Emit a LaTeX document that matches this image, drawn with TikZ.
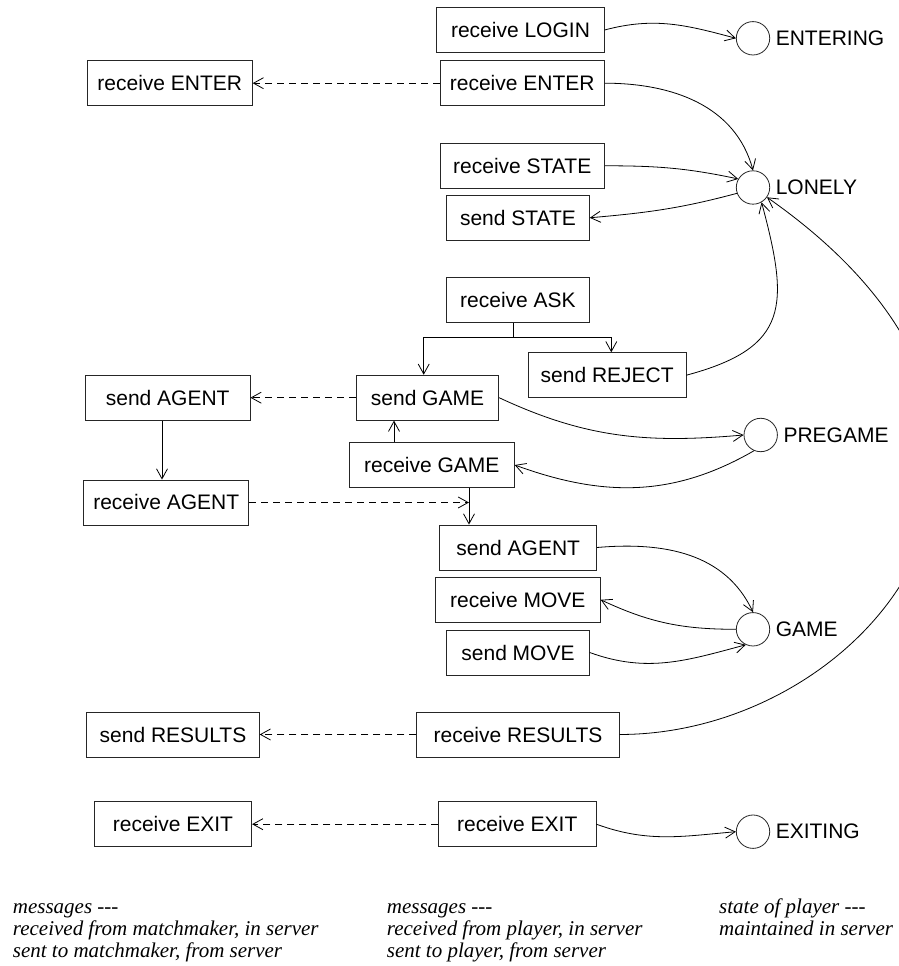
\documentclass[tikz,border=0pt]{standalone}
\usepackage{fontspec}
\setmainfont{Liberation Sans}
\newfontfamily\notefont{Liberation Serif}
\usetikzlibrary{arrows.meta,calc}
\begin{document}
\begin{tikzpicture}[x=1pt,y=1pt,
  box/.style={draw=black!85, line width=0.8pt, minimum height=45pt, inner sep=0pt, font=\fontsize{21}{25}\selectfont},
  st/.style={circle, draw=black!85, line width=0.8pt, minimum size=33.4pt, inner sep=0pt},
  stlab/.style={font=\fontsize{21}{25}\selectfont, inner sep=0pt, anchor=west},
  arr/.style={line width=0.8pt, -{Straight Barb[length=10pt,width=11pt]}},
  dasharr/.style={arr, dash pattern=on 7pt off 5pt},
  plain/.style={line width=0.8pt},
  note/.style={font=\notefont\itshape\fontsize{21}{22}\selectfont, inner sep=0pt, anchor=base west}]
\clip (0,0) rectangle (899,966);
\fill[white] (0,0) rectangle (899,966);

% boxes
\node[box, minimum width=167.6pt] (rLOGIN)   at (520.5,936)   {receive LOGIN};
\node[box, minimum width=164.3pt] (rENTERb)  at (522.2,882.8) {receive ENTER};
\node[box, minimum width=165pt]   (rENTERa)  at (169.8,882.8) {receive ENTER};
\node[box, minimum width=164.3pt] (rSTATE)   at (522.2,800.2) {receive STATE};
\node[box, minimum width=142.6pt] (sSTATE)   at (518,748.2)   {send STATE};
\node[box, minimum width=142.6pt] (rASK)     at (518,666)     {receive ASK};
\node[box, minimum width=157.7pt] (sREJECT)  at (607.2,590.8) {send REJECT};
\node[box, minimum width=142.4pt] (sGAME)    at (427.5,568.3) {send GAME};
\node[box, minimum width=164.7pt] (sAGENTa)  at (167.7,568.3) {send AGENT};
\node[box, minimum width=165pt]   (rGAME)    at (431.8,501)   {receive GAME};
\node[box, minimum width=165pt]   (rAGENT)   at (166.2,463.5) {receive AGENT};
\node[box, minimum width=157pt]   (sAGENTb)  at (518.2,418.5) {send AGENT};
\node[box, minimum width=165pt]   (rMOVE)    at (517.8,366.2) {receive MOVE};
\node[box, minimum width=142.6pt] (sMOVE)    at (518,313.5)   {send MOVE};
\node[box, minimum width=202.6pt] (rRESULTS) at (518,231.5)   {receive RESULTS};
\node[box, minimum width=172.6pt] (sRESULTS) at (173,231.5)   {send RESULTS};
\node[box, minimum width=157.3pt] (rEXITb)   at (517.3,141.8) {receive EXIT};
\node[box, minimum width=157.4pt] (rEXITa)   at (173,141.8)   {receive EXIT};

% states
\node[st] (ent) at (753,927.7) {};
\node[st] (lon) at (753,778.5) {};
\node[st] (pre) at (760.7,531) {};
\node[st] (gam) at (753,336.7) {};
\node[st] (exi) at (753,134.3) {};
\node[stlab] (entL) at ($(ent.east)+(5.5,0)$) {ENTERING};
\node[stlab] (lonL) at ($(lon.east)+(5.5,0)$) {LONELY};
\node[stlab] (preL) at ($(pre.east)+(5.5,0)$) {PREGAME};
\node[stlab] (gamL) at ($(gam.east)+(5.5,0)$) {GAME};
\node[stlab] (exiL) at ($(exi.east)+(5.5,0)$) {EXITING};

% transitions to/from states
\draw[arr] (rLOGIN.east) to[out=15,in=165] (ent.west);
\draw[arr] (rENTERb.east) to[out=0,in=105] (lon.north);
\draw[arr] (rSTATE.east) to[out=0,in=168] (lon.150);
\draw[arr] (lon.200) to[out=195,in=5] (sSTATE.east);
\draw[arr] (sREJECT.east) to[out=15,in=-75,looseness=1.45] (lon.-60);
\draw[arr] (rRESULTS.east) .. controls +(250,0) and +(344,-241) .. (lon.-35);
\draw[arr] (sGAME.east) to[out=-25,in=185] (pre.west);
\draw[arr] (pre.-113) to[out=-150,in=-20] (rGAME.east);
\draw[arr] (sAGENTb.east) to[out=5,in=115] (gam.north);
\draw[arr] (gam.west) to[out=180,in=-25] (rMOVE.east);
\draw[arr] (sMOVE.east) to[out=-20,in=195] (gam.-115);
\draw[arr] (rEXITb.east) to[out=-20,in=185] (exi.west);

% ASK split
\coordinate (askj) at ($(rASK.south)+(-4.7,-14.6)$);
\draw[plain] ($(rASK.south)+(-4.7,0)$) -- (askj);
\draw[arr] (askj) -| ([xshift=-3.8pt]sGAME.north);
\draw[arr] (askj) -| ([xshift=4.1pt]sREJECT.north);

% vertical arrows
\draw[arr] ([xshift=-37.8pt]rGAME.north) -- ([xshift=-37.8pt]rGAME.north |- sGAME.south);
\draw[arr] ([xshift=-5.7pt]sAGENTa.south) -- ([xshift=-5.7pt]sAGENTa.south |- rAGENT.north);
\coordinate (gj) at ([xshift=37.2pt]rGAME.south);
\draw[arr] (gj) -- (gj |- sAGENTb.north);

% dashed messages
\draw[dasharr] (rENTERb.west) -- (rENTERa.east);
\draw[dasharr] (sGAME.west) -- (sAGENTa.east);
\draw[dasharr] (rAGENT.east) -- (rAGENT.east -| gj);
\draw[dasharr] (rRESULTS.west) -- (sRESULTS.east);
\draw[dasharr] (rEXITb.west) -- (rEXITa.east);

% notes
\node[note] (n1a) at (12.7,52.7) {messages ---};
\node[note] (n1b) at (12.7,30.4) {received from matchmaker, in server};
\node[note] (n1c) at (12.7,8.2)  {sent to matchmaker, from server};
\node[note] (n2a) at (386.7,52.7) {messages ---};
\node[note] (n2b) at (386.7,30.4) {received from player, in server};
\node[note] (n2c) at (386.7,8.2)  {sent to player, from server};
\node[note] (n3a) at (719,52.7) {state of player ---};
\node[note] (n3b) at (719,30.4) {maintained in server};
\end{tikzpicture}
\end{document}
